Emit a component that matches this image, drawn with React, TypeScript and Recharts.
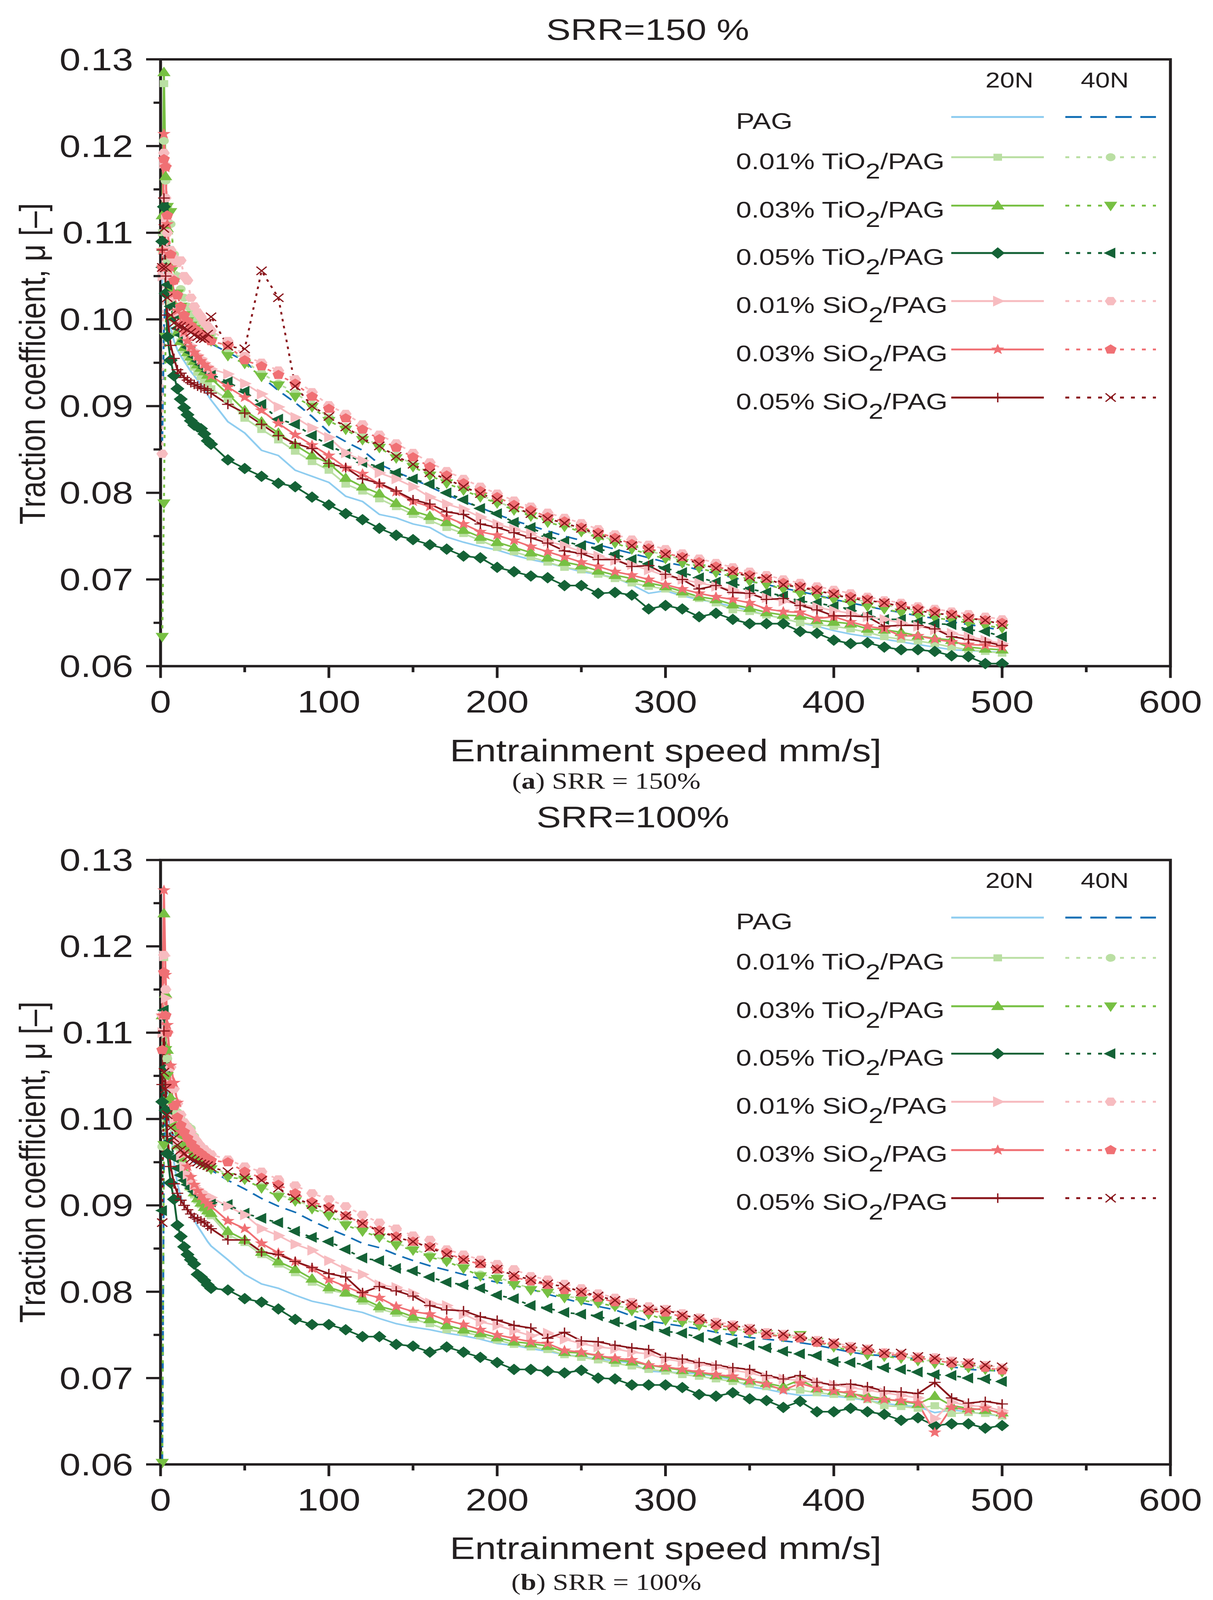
import React from 'react';
import { LineChart, Line, XAxis, YAxis, ReferenceArea } from 'recharts';

const INK = '#231f20';
const SANS = '"Liberation Sans", Arial, Helvetica, sans-serif';
const SERIF = '"Liberation Serif", "Times New Roman", serif';

// The browser photograph only holds 4096 px of height, so the 5027 px tall figure is
// compressed vertically to fit inside it (horizontal geometry is unchanged).
const PAGE_W = 3105;
const PAGE_H = 5027;
const SHOT_H = 4096;
const FIT_Y = SHOT_H / PAGE_H;

// Entrainment speed, mm/s
const speed = [
  1, 2, 3, 4, 6, 8, 10, 12, 14, 16, 18, 20, 22, 24, 26, 28, 30,
  40, 50, 60, 70, 80, 90, 100, 110, 120, 130,
  140, 150, 160, 170, 180, 190, 200, 210, 220, 230,
  240, 250, 260, 270, 280, 290, 300, 310, 320, 330,
  340, 350, 360, 370, 380, 390, 400, 410, 420, 430,
  440, 450, 460, 470, 480, 490, 500,
];

const xTicks = [0, 50, 100, 150, 200, 250, 300, 350, 400, 450, 500, 550, 600];
const yTicks = [0.06, 0.065, 0.07, 0.075, 0.08, 0.085, 0.09, 0.095, 0.1, 0.105, 0.11, 0.115, 0.12, 0.125, 0.13];

// ---------- SRR = 150 %  (traction coefficient x 1000) ----------
const s150_pag20 = [
  104, 110, 104, 101, 99, 97.5, 96.5, 95.8, 95.2, 94.6, 94.0, 93.5, 93.0, 92.5, 92.0, 91.3, 90.7,
  88.2, 86.9, 84.9, 84.3, 82.6, 81.9, 81.2, 79.6, 79.0, 77.5,
  77.1, 76.4, 76.0, 74.9, 74.3, 73.8, 73.4, 72.8, 72.3, 71.9,
  71.4, 70.9, 70.6, 70.2, 69.4, 68.4, 68.7, 68.1, 67.7, 67.3,
  66.9, 66.4, 65.9, 65.5, 65.0, 64.6, 64.1, 63.7, 63.4, 63.1,
  62.8, 62.5, 62.2, 61.9, 61.8, 61.7, 61.6,
];
const s150_pag40 = [
  86, 99, 103, 102, 101, 100.3, 99.8, 99.4, 99.0, 98.7, 98.4, 98.2, 98.0, 97.8, 97.6, 97.4, 97.2,
  96.2, 95.2, 93.4, 91.8, 90.4, 88.8, 87.0, 85.9, 84.9, 83.3,
  82.4, 81.6, 80.7, 79.8, 79.0, 78.3, 77.5, 76.8, 76.2, 75.6,
  75.0, 74.5, 74.0, 73.5, 73.0, 72.5, 72.0, 71.6, 71.1, 70.7,
  70.2, 69.8, 69.4, 69.0, 68.6, 68.2, 67.7, 67.3, 66.9, 66.5,
  66.2, 65.8, 65.5, 65.1, 64.8, 64.5, 64.1,
];
const s150_ti01_20 = [
  110, 127.2, 112, 106.5, 102, 100, 98.5, 97.4, 96.5, 95.8, 95.1, 94.5, 93.9, 93.4, 92.9, 92.4, 92.0,
  90.8, 88.6, 87.3, 86.1, 84.8, 83.6, 82.6, 81.0, 80.2, 79.3,
  78.4, 77.5, 76.8, 76.0, 75.3, 74.5, 73.7, 73.2, 72.6, 72.0,
  71.4, 71.1, 70.6, 70.1, 69.6, 69.2, 68.9, 68.3, 67.8, 67.3,
  66.5, 66.3, 65.9, 65.5, 65.0, 64.8, 64.6, 64.3, 63.9, 63.4,
  63.1, 62.9, 62.6, 62.2, 61.9, 61.7, 61.5,
];
const s150_ti01_40 = [
  108, 120.6, 116, 113, 111, 107.5, 105, 103.5, 102.5, 101.5, 100.8, 100.3, 99.8, 99.4, 99.0, 98.6, 98.3,
  96.6, 95.2, 93.8, 92.6, 91.5, 90.2, 88.7, 87.6, 86.5, 85.4,
  84.3, 83.3, 82.3, 81.4, 80.5, 79.7, 79.0, 78.2, 77.6, 76.9,
  76.3, 75.7, 75.1, 74.5, 73.9, 73.3, 72.8, 72.3, 71.7, 71.2,
  70.8, 70.3, 69.8, 69.4, 69.0, 68.6, 68.2, 67.8, 67.4, 67.1,
  66.7, 66.4, 66.1, 65.8, 65.5, 65.2, 64.9,
];
const s150_ti03_20 = [
  112, 128.5, 116.5, 110.5, 103.5, 100.5, 98.5, 97.5, 96.8, 96.2, 95.7, 95.2, 94.8, 94.4, 94.0, 93.6, 93.2,
  91.4, 89.5, 88.2, 86.9, 85.5, 84.3, 83.4, 81.7, 80.7, 79.9,
  78.8, 77.9, 77.3, 76.6, 75.7, 74.9, 74.3, 73.7, 73.1, 72.5,
  72.0, 71.6, 71.0, 70.5, 70.1, 69.6, 69.2, 68.6, 68.0, 67.7,
  67.1, 66.7, 66.2, 65.9, 65.8, 65.3, 65.1, 64.9, 64.3, 64.2,
  63.9, 63.5, 63.2, 63.0, 62.2, 62.0, 61.9,
];
const s150_ti03_40 = [
  63.4, 78.8, 98.0, 113, 112.4, 106, 103, 101.5, 100.5, 99.8, 99.3, 98.9, 98.6, 98.3, 98.0, 97.8, 97.5,
  95.8, 94.9, 93.4, 92.4, 91.1, 89.9, 88.3, 87.3, 86.1, 85.2,
  84.0, 83.0, 82.0, 81.1, 80.3, 79.5, 78.8, 78.0, 77.3, 76.6,
  76.1, 75.5, 74.8, 74.2, 73.5, 72.9, 72.4, 71.9, 71.3, 70.8,
  70.3, 69.8, 69.4, 68.9, 68.4, 68.1, 67.7, 67.3, 66.9, 66.6,
  66.2, 65.9, 65.6, 65.3, 65.0, 64.7, 64.4,
];
const s150_ti05_20 = [
  109, 113, 103, 98, 95.3, 93.5, 92.0, 90.8, 89.8, 89.0, 88.3, 87.8, 87.6, 87.4, 86.8, 86.0, 85.6,
  83.8, 82.8, 81.9, 81.1, 80.7, 79.5, 78.6, 77.6, 76.9, 75.9,
  75.1, 74.6, 74.0, 73.5, 72.7, 72.5, 71.4, 70.9, 70.4, 70.2,
  69.3, 69.3, 68.4, 68.5, 68.2, 66.6, 67.0, 66.6, 65.7, 66.1,
  65.4, 64.9, 64.9, 64.9, 64.0, 63.8, 63.0, 62.6, 62.7, 62.2,
  61.9, 61.9, 61.7, 61.2, 61.1, 60.3, 60.3,
];
const s150_ti05_40 = [
  106, 113, 108, 104, 101.5, 100, 99, 98.2, 97.5, 96.8, 96.2, 95.7, 95.2, 94.8, 94.4, 94.0, 93.7,
  92.8, 91.7, 90.2, 88.5, 87.9, 86.6, 85.5, 84.5, 83.5, 83.0,
  82.3, 81.6, 81.0, 80.0, 79.2, 78.2, 77.6, 76.6, 76.0, 75.0,
  74.4, 73.9, 73.6, 72.9, 72.3, 71.8, 71.3, 70.8, 70.2, 69.7,
  69.6, 68.9, 68.5, 68.1, 67.5, 67.3, 66.9, 66.6, 65.9, 65.4,
  65.4, 65.1, 64.9, 64.8, 64.2, 64.0, 63.4,
];
const s150_si01_20 = [
  105, 118, 111.5, 108, 105, 102.5, 100.8, 99.5, 98.5, 97.8, 97.0, 96.4, 95.9, 95.5, 95.0, 94.6, 94.3,
  93.7, 92.6, 91.4, 89.9, 88.7, 87.5, 86.4, 84.6, 83.7, 82.3,
  81.6, 80.7, 79.5, 78.7, 78.1, 77.2, 76.4, 75.8, 75.3, 74.4,
  73.9, 73.2, 72.7, 72.2, 71.7, 71.1, 70.4, 70.0, 69.6, 69.2,
  68.8, 68.3, 67.9, 67.5, 67.1, 66.8, 66.4, 66.1, 65.7, 65.4,
  65.0, 64.6, 64.2, 63.8, 63.4, 63.0, 62.6,
];
const s150_si01_40 = [
  84.5, 119.2, 114, 110, 108, 107, 106.5, 106.8, 105, 104.5, 102.5, 101.5, 100.8, 100.3, 99.7, 99.2, 98.7,
  97.5, 95.8, 95.0, 94.1, 93.1, 91.6, 90.1, 89.1, 87.9, 86.7,
  85.7, 84.6, 83.5, 82.5, 81.6, 80.7, 79.9, 79.1, 78.4, 77.7,
  77.1, 76.5, 75.8, 75.2, 74.6, 74.0, 73.5, 73.0, 72.4, 71.9,
  71.4, 70.9, 70.5, 70.0, 69.6, 69.2, 68.8, 68.4, 68.0, 67.6,
  67.3, 66.9, 66.6, 66.3, 66.0, 65.7, 65.4,
];
const s150_si03_20 = [
  108, 121.4, 117.5, 111, 106, 103, 101, 99.5, 98.5, 97.5, 96.8, 96.2, 95.7, 95.2, 94.8, 94.4, 93.5,
  92.2, 91.0, 89.5, 88.0, 86.7, 85.5, 84.3, 82.9, 82.2, 81.0,
  80.1, 79.0, 78.4, 77.2, 76.4, 75.5, 75.1, 74.5, 73.8, 73.2,
  72.6, 72.0, 71.5, 70.9, 70.5, 70.0, 69.4, 68.9, 68.4, 68.0,
  67.7, 67.3, 66.6, 66.3, 66.2, 65.5, 65.7, 65.1, 64.6, 64.3,
  63.5, 63.5, 63.1, 62.8, 62.5, 62.4, 62.2,
];
const s150_si03_40 = [
  106, 118.5, 117.6, 112, 107.5, 104.5, 102.8, 101.5, 100.5, 99.8, 99.3, 98.9, 98.6, 98.3, 98.0, 97.8, 97.5,
  97.0, 95.3, 94.6, 93.6, 92.6, 91.1, 89.7, 88.6, 87.3, 86.2,
  85.2, 84.1, 83.0, 82.0, 81.1, 80.2, 79.5, 78.6, 78.0, 77.2,
  76.7, 76.0, 75.4, 74.8, 74.1, 73.6, 73.0, 72.6, 72.0, 71.5,
  71.0, 70.5, 70.1, 69.6, 69.2, 68.8, 68.4, 68.0, 67.7, 67.3,
  67.0, 66.6, 66.3, 66.0, 65.6, 65.3, 65.0,
];
const s150_si05_20 = [
  108, 114, 105, 100.5, 97, 95.5, 94.2, 93.8, 93.3, 93.0, 92.7, 92.5, 92.3, 92.1, 92.0, 91.8, 91.5,
  90.2, 89.2, 87.9, 86.6, 85.7, 85.1, 83.4, 82.9, 81.6, 81.1,
  80.2, 79.2, 78.7, 77.8, 77.5, 76.4, 76.0, 75.4, 74.8, 74.2,
  73.3, 73.0, 72.3, 72.3, 71.5, 71.6, 70.6, 70.0, 68.9, 69.3,
  68.5, 68.4, 67.7, 67.8, 67.0, 66.5, 65.8, 65.8, 65.7, 64.6,
  64.7, 64.7, 64.3, 63.4, 63.1, 62.8, 62.4,
];
const s150_si05_40 = [
  106, 110.5, 106, 102.5, 100.5, 99.6, 99.3, 99.2, 99.0, 98.8, 98.5, 98.2, 98.0, 97.8, 97.8, 98.3, 100.3,
  96.9, 96.6, 105.6, 102.5, 92.3, 90.0, 88.8, 87.6, 86.3, 85.4,
  84.2, 83.3, 82.3, 81.6, 80.7, 79.9, 79.2, 78.3, 77.6, 77.0,
  76.5, 75.9, 75.2, 74.6, 73.9, 73.5, 72.9, 72.5, 71.8, 71.3,
  70.9, 70.3, 70.1, 69.4, 69.1, 68.7, 68.3, 67.8, 67.6, 67.3,
  66.9, 66.4, 66.1, 65.9, 65.5, 65.3, 64.8,
];

// ---------- SRR = 100 %  (traction coefficient x 1000) ----------
const s100_pag20 = [
  110, 124, 115, 106, 99, 95, 92.5, 91.0, 90.0, 89.5, 89.1, 88.3, 87.6, 87.0, 86.4, 85.8, 85.3,
  83.7, 82.0, 80.9, 80.4, 79.6, 78.9, 78.5, 78.0, 77.6, 76.9,
  76.3, 75.9, 75.6, 75.2, 74.9, 74.5, 74.0, 73.8, 73.4, 73.1,
  72.7, 72.5, 72.2, 72.0, 71.7, 70.8, 70.7, 70.6, 70.5, 70.2,
  69.8, 69.0, 68.7, 68.3, 68.0, 68.0, 67.9, 67.7, 67.4, 67.1,
  66.8, 66.7, 66.0, 66.3, 66.1, 65.8, 65.6,
];
const s100_pag40 = [
  60.2, 96, 104, 101, 99, 97.8, 97, 96.4, 96.0, 95.6, 95.3, 95.0, 94.8, 94.6, 94.4, 94.2, 94.1,
  92.9, 91.9, 90.8, 89.9, 89.2, 88.2, 87.3, 86.5, 85.6, 85.1,
  84.3, 83.6, 83.0, 82.5, 82.0, 81.5, 81.1, 80.7, 80.3, 79.7,
  79.2, 78.7, 78.3, 77.9, 77.2, 76.6, 76.3, 76.0, 75.7, 75.3,
  75.0, 74.7, 74.5, 74.3, 74.1, 73.8, 73.4, 73.0, 72.7, 72.6,
  72.4, 72.2, 71.9, 71.3, 71.0, 70.9, 70.8,
];
const s100_ti01_20 = [
  108, 118.7, 112, 107, 102, 99, 96.8, 95.2, 93.8, 92.8, 92.0, 91.2, 90.6, 90.1, 89.6, 89.2, 88.8,
  86.6, 85.7, 84.3, 83.2, 82.2, 81.1, 80.2, 79.8, 78.9, 78.0,
  77.5, 76.8, 76.3, 75.6, 75.3, 74.9, 74.4, 73.9, 73.6, 73.3,
  72.7, 72.4, 72.1, 71.7, 71.4, 71.0, 70.8, 70.4, 70.2, 69.9,
  69.6, 69.3, 69.0, 68.8, 68.6, 68.3, 68.1, 67.8, 67.5, 66.8,
  66.7, 66.5, 66.8, 65.9, 66.0, 65.9, 65.6,
];
const s100_ti01_40 = [
  96.8, 112, 110, 107, 104, 102, 100.8, 100, 99.5, 99.2, 98.9, 98.0, 97.2, 96.6, 96.0, 95.4, 94.8,
  93.4, 93.1, 92.2, 91.2, 90.7, 89.8, 89.0, 87.9, 87.2, 86.4,
  85.6, 85.0, 84.2, 83.6, 82.9, 82.0, 81.7, 81.0, 80.4, 80.1,
  79.5, 79.2, 78.8, 78.4, 78.0, 77.6, 77.0, 76.7, 76.3, 76.0,
  75.7, 75.4, 75.2, 74.9, 74.6, 74.3, 73.7, 73.3, 73.0, 72.7,
  72.5, 72.2, 71.9, 71.6, 71.4, 71.1, 70.9,
];
const s100_ti03_20 = [
  112, 123.8, 114.5, 108, 102.5, 99.5, 97.0, 95.5, 94.0, 93.0, 92.2, 91.5, 90.8, 90.3, 89.8, 89.4, 89.1,
  87.0, 86.0, 84.6, 83.5, 82.6, 81.5, 80.5, 79.9, 79.2, 78.3,
  77.8, 77.1, 76.8, 76.1, 75.6, 75.2, 74.7, 74.2, 74.0, 73.7,
  73.0, 72.9, 72.6, 72.1, 71.9, 71.5, 71.2, 70.9, 70.6, 70.3,
  70.0, 69.7, 69.4, 69.0, 69.8, 68.8, 68.5, 68.2, 67.9, 67.6,
  67.3, 67.0, 67.9, 66.8, 66.5, 66.3, 66.0,
];
const s100_ti03_40 = [
  60.2, 97, 108, 105, 102, 100, 98.8, 98.0, 97.3, 96.7, 96.2, 95.7, 95.3, 95.0, 94.7, 94.5, 94.2,
  93.3, 93.0, 92.0, 91.0, 90.5, 89.6, 88.8, 87.7, 87.0, 86.3,
  85.4, 84.8, 84.0, 83.5, 82.7, 81.8, 81.5, 80.8, 80.2, 79.9,
  79.3, 79.0, 78.7, 78.3, 77.8, 77.4, 76.7, 76.5, 76.1, 75.8,
  75.5, 75.3, 75.1, 74.8, 75.0, 74.2, 73.6, 73.2, 72.7, 72.5,
  72.3, 72.0, 71.7, 71.5, 71.2, 71.0, 70.7,
];
const s100_ti05_20 = [
  102, 112, 101, 96, 92.6, 90.7, 87.7, 86.4, 85.2, 84.3, 83.7, 83.2, 82.0, 81.7, 81.3, 80.8, 80.4,
  80.2, 79.2, 78.8, 78.0, 76.8, 76.2, 76.2, 75.6, 74.8, 74.8,
  73.9, 73.7, 73.0, 73.6, 73.0, 72.4, 71.8, 71.0, 71.0, 70.8,
  70.6, 70.9, 70.0, 69.9, 69.2, 69.2, 69.2, 68.9, 68.1, 67.9,
  68.3, 67.6, 67.4, 66.6, 67.3, 66.1, 66.1, 66.5, 66.1, 65.8,
  65.1, 65.4, 64.5, 64.7, 64.7, 64.2, 64.5,
];
const s100_ti05_40 = [
  89.4, 112.6, 106, 101, 97.5, 95.5, 94.3, 93.5, 92.9, 92.4, 92.0, 91.6, 91.3, 91.0, 90.8, 90.6, 90.4,
  90.1, 89.1, 88.5, 88.0, 87.0, 86.3, 85.8, 84.9, 83.9, 83.6,
  82.7, 82.4, 81.7, 81.1, 80.8, 80.4, 79.6, 79.2, 78.4, 78.1,
  77.6, 77.4, 77.2, 76.5, 76.1, 76.0, 75.4, 75.2, 74.7, 74.4,
  74.1, 73.8, 73.5, 73.1, 72.8, 72.6, 71.9, 71.8, 71.5, 71.2,
  71.0, 70.7, 70.4, 70.3, 70.0, 69.9, 69.6,
];
const s100_si01_20 = [
  110, 118.9, 114, 110, 104, 100, 97.5, 95.8, 94.5, 93.6, 92.9, 92.3, 91.9, 91.6, 91.3, 91.1, 90.9,
  89.9, 88.9, 87.3, 86.5, 85.5, 84.8, 83.6, 82.6, 82.0, 80.8,
  80.5, 79.8, 78.7, 78.4, 77.4, 76.5, 76.1, 75.5, 74.9, 75.2,
  74.5, 74.0, 73.6, 73.4, 73.0, 72.8, 72.2, 71.9, 71.6, 71.3,
  70.9, 70.6, 70.1, 69.9, 69.7, 69.5, 69.2, 68.9, 68.6, 68.3,
  68.0, 67.7, 65.3, 67.2, 66.8, 66.7, 66.2,
];
const s100_si01_40 = [
  112, 119, 115, 110, 106, 103.5, 101.8, 100.5, 99.6, 99.0, 98.5, 97.8, 97.3, 96.8, 96.5, 96.1, 95.9,
  95.3, 94.5, 93.9, 93.0, 92.3, 91.4, 90.7, 89.9, 88.9, 88.0,
  87.3, 86.5, 86.0, 84.9, 84.3, 83.7, 83.2, 82.6, 81.8, 81.4,
  80.9, 80.4, 79.8, 79.3, 78.8, 78.3, 78.0, 77.5, 77.0, 76.5,
  76.2, 75.8, 75.3, 75.1, 74.8, 74.4, 74.1, 73.7, 73.4, 73.0,
  72.8, 72.5, 72.4, 72.0, 71.8, 71.5, 71.2,
];
const s100_si03_20 = [
  112, 126.5, 116.7, 110.9, 106.2, 104.2, 101.9, 98.5, 96.0, 94.5, 93.3, 92.4, 91.7, 91.1, 90.6, 90.2, 89.9,
  88.2, 87.3, 85.6, 84.5, 83.5, 82.7, 81.4, 80.6, 79.8, 79.3,
  78.3, 77.7, 77.4, 76.7, 76.2, 75.6, 75.0, 74.6, 74.2, 74.0,
  73.2, 73.0, 72.6, 72.3, 72.1, 71.5, 71.3, 71.0, 70.7, 70.4,
  70.2, 69.7, 69.3, 68.6, 69.4, 68.8, 68.5, 68.3, 67.6, 67.5,
  67.4, 67.1, 63.7, 66.6, 66.3, 66.5, 65.8,
];
const s100_si03_40 = [
  108, 117, 112, 110, 104, 101.5, 100.2, 99.3, 98.5, 97.8, 97.2, 96.7, 96.3, 96.0, 95.7, 95.4, 95.2,
  95.0, 93.9, 93.2, 92.4, 91.4, 90.4, 89.8, 88.8, 87.9, 87.1,
  86.4, 85.8, 85.2, 84.5, 83.7, 83.2, 82.6, 81.7, 81.2, 80.8,
  80.2, 79.9, 79.3, 78.8, 78.4, 77.8, 77.6, 77.1, 76.7, 76.1,
  75.9, 75.5, 75.0, 74.8, 74.6, 74.1, 73.9, 73.4, 73.2, 72.8,
  72.6, 72.3, 72.1, 71.7, 71.6, 71.2, 70.9,
];
const s100_si05_20 = [
  104, 110.2, 104, 98, 94.5, 92.5, 91.4, 90.6, 90.0, 89.5, 89.0, 88.6, 88.4, 88.2, 88.0, 87.6, 87.3,
  86.0, 86.0, 84.6, 84.3, 83.5, 82.8, 82.1, 81.7, 79.9, 80.6,
  80.1, 79.5, 78.4, 77.9, 77.8, 77.1, 76.7, 76.1, 75.8, 74.6,
  75.3, 74.3, 74.2, 73.8, 73.5, 73.3, 72.4, 72.2, 71.8, 71.5,
  71.2, 71.0, 70.3, 69.9, 70.3, 69.5, 69.2, 69.3, 69.0, 68.5,
  68.4, 68.2, 69.5, 67.7, 67.1, 67.3, 67.0,
];
const s100_si05_40 = [
  88.0, 105.4, 103.5, 100.5, 99, 97.8, 97, 96.4, 96.0, 95.6, 95.4, 95.2, 95.0, 94.8, 94.7, 94.6, 94.4,
  93.9, 93.2, 92.9, 92.0, 90.8, 90.1, 89.6, 88.8, 87.9, 87.0,
  86.3, 85.8, 85.1, 84.3, 83.7, 83.3, 82.6, 81.9, 81.4, 80.9,
  80.6, 80.0, 79.5, 79.0, 78.6, 78.0, 77.9, 77.3, 76.9, 76.3,
  76.1, 75.7, 75.2, 75.1, 74.8, 74.3, 74.1, 73.6, 73.4, 72.9,
  72.9, 72.5, 72.3, 71.9, 71.8, 71.5, 71.3,
];

const seriesKeys = ['pag20', 'pag40', 'ti01_20', 'ti01_40', 'ti03_20', 'ti03_40', 'ti05_20', 'ti05_40',
  'si01_20', 'si01_40', 'si03_20', 'si03_40', 'si05_20', 'si05_40'];

const cols150 = [s150_pag20, s150_pag40, s150_ti01_20, s150_ti01_40, s150_ti03_20, s150_ti03_40, s150_ti05_20,
  s150_ti05_40, s150_si01_20, s150_si01_40, s150_si03_20, s150_si03_40, s150_si05_20, s150_si05_40];
const cols100 = [s100_pag20, s100_pag40, s100_ti01_20, s100_ti01_40, s100_ti03_20, s100_ti03_40, s100_ti05_20,
  s100_ti05_40, s100_si01_20, s100_si01_40, s100_si03_20, s100_si03_40, s100_si05_20, s100_si05_40];

function buildRows(cols: number[][]) {
  return speed.map((s, i) => {
    const row: any = { speed: s };
    seriesKeys.forEach((k, j) => { row[k] = cols[j][i] / 1000; });
    return row;
  });
}
const rows150 = buildRows(cols150);
const rows100 = buildRows(cols100);

type Shape = 'none' | 'square' | 'circle' | 'triUp' | 'triDown' | 'diamond' | 'triLeft' | 'triRight' |
  'hexagon' | 'star' | 'pentagon' | 'plus' | 'cross';

const C_PAG20 = '#8fcdf0';
const C_PAG40 = '#1570b5';
const C_TI01 = '#badfa3';
const C_TI03 = '#77c043';
const C_TI05 = '#146236';
const C_SI01 = '#f7bcc0';
const C_SI03 = '#f07074';
const C_SI05 = '#8a161c';

const DOT = '10 16';
const seriesStyle: { key: string; color: string; dash?: string; shape: Shape }[] = [
  { key: 'pag20', color: C_PAG20, shape: 'none' },
  { key: 'pag40', color: C_PAG40, dash: '30 18', shape: 'none' },
  { key: 'ti01_20', color: C_TI01, shape: 'square' },
  { key: 'ti01_40', color: C_TI01, dash: DOT, shape: 'circle' },
  { key: 'ti03_20', color: C_TI03, shape: 'triUp' },
  { key: 'ti03_40', color: C_TI03, dash: DOT, shape: 'triDown' },
  { key: 'ti05_20', color: C_TI05, shape: 'diamond' },
  { key: 'ti05_40', color: C_TI05, dash: DOT, shape: 'triLeft' },
  { key: 'si01_20', color: C_SI01, shape: 'triRight' },
  { key: 'si01_40', color: C_SI01, dash: DOT, shape: 'hexagon' },
  { key: 'si03_20', color: C_SI03, shape: 'star' },
  { key: 'si03_40', color: C_SI03, dash: DOT, shape: 'pentagon' },
  { key: 'si05_20', color: C_SI05, shape: 'plus' },
  { key: 'si05_40', color: C_SI05, dash: '8 14', shape: 'cross' },
];

const legendRows = [
  { pre: 'PAG', sub: '', post: '' },
  { pre: '0.01% TiO', sub: '2', post: '/PAG' },
  { pre: '0.03% TiO', sub: '2', post: '/PAG' },
  { pre: '0.05% TiO', sub: '2', post: '/PAG' },
  { pre: '0.01% SiO', sub: '2', post: '/PAG' },
  { pre: '0.03% SiO', sub: '2', post: '/PAG' },
  { pre: '0.05% SiO', sub: '2', post: '/PAG' },
];
const legendOffsets = [181, 307.5, 459.5, 608.5, 759.5, 911.5, 1062.5];

function poly(pts: number[][], x: number, y: number) {
  return pts.map(([a, b]) => `${(x + a).toFixed(2)},${(y + b).toFixed(2)}`).join(' ');
}
function regular(n: number, r: number, start: number) {
  const out: number[][] = [];
  for (let i = 0; i < n; i++) {
    const a = (start + (360 / n) * i) * Math.PI / 180;
    out.push([r * Math.cos(a), r * Math.sin(a)]);
  }
  return out;
}
function starPts(ro: number, ri: number) {
  const out: number[][] = [];
  for (let i = 0; i < 10; i++) {
    const a = (-90 + 36 * i) * Math.PI / 180;
    const r = i % 2 === 0 ? ro : ri;
    out.push([r * Math.cos(a), r * Math.sin(a)]);
  }
  return out;
}

function Marker({ shape, x, y, color }: { shape: Shape; x: number; y: number; color: string }) {
  switch (shape) {
    case 'square':
      return <rect x={x - 11} y={y - 11} width={22} height={22} fill={color} />;
    case 'circle':
      return <circle cx={x} cy={y} r={12.5} fill={color} />;
    case 'triUp':
      return <polygon points={poly([[0, -18], [17, 12], [-17, 12]], x, y)} fill={color} />;
    case 'triDown':
      return <polygon points={poly([[0, 18], [17, -12], [-17, -12]], x, y)} fill={color} />;
    case 'triLeft':
      return <polygon points={poly([[-18, 0], [12, -17], [12, 17]], x, y)} fill={color} />;
    case 'triRight':
      return <polygon points={poly([[18, 0], [-12, -17], [-12, 17]], x, y)} fill={color} />;
    case 'diamond':
      return <polygon points={poly([[0, -18], [18, 0], [0, 18], [-18, 0]], x, y)} fill={color} />;
    case 'hexagon':
      return <polygon points={poly(regular(6, 15, 0), x, y)} fill={color} />;
    case 'pentagon':
      return <polygon points={poly(regular(5, 16, -90), x, y)} fill={color} />;
    case 'star':
      return <polygon points={poly(starPts(18, 7.5), x, y)} fill={color} />;
    case 'plus':
      return <path d={`M${x - 15},${y}H${x + 15}M${x},${y - 15}V${y + 15}`} stroke={color} strokeWidth={3.5} fill="none" />;
    case 'cross':
      return <path d={`M${x - 13},${y - 13}L${x + 13},${y + 13}M${x - 13},${y + 13}L${x + 13},${y - 13}`} stroke={color} strokeWidth={3.5} fill="none" />;
    default:
      return null;
  }
}

const makeDot = (shape: Shape, color: string) => (p: any) => {
  if (p == null || p.cx == null || p.cy == null || isNaN(p.cx) || isNaN(p.cy)) return <g key={`e${p && p.index}`} />;
  return (
    <g key={`d${p.index}`}>
      <Marker shape={shape} x={p.cx} y={p.cy} color={color} />
    </g>
  );
};

const XTick = (p: any) => {
  const v = p.payload.value;
  const major = v % 100 === 0;
  return (
    <g>
      <line x1={p.x} x2={p.x} y1={p.y} y2={p.y + (major ? 37 : 19)} stroke={INK} strokeWidth={7} />
      {major && (
        <text x={p.x} y={p.y + 145} textAnchor="middle" fontSize={97} fontFamily={SANS} fill={INK}>{v}</text>
      )}
    </g>
  );
};

const YTick = (p: any) => {
  const v = p.payload.value;
  const major = Math.round(v * 1000) % 10 === 0;
  return (
    <g>
      <line x1={p.x} x2={p.x - (major ? 37 : 18)} y1={p.y} y2={p.y} stroke={INK} strokeWidth={7} />
      {major && (
        <text x={p.x - 70} y={p.y + 34} textAnchor="end" fontSize={97} fontFamily={SANS} fill={INK}>{v.toFixed(2)}</text>
      )}
    </g>
  );
};

function Panel({ rows, top, height, plotTop, plotBottom }: { rows: any[]; top: number; height: number; plotTop: number; plotBottom: number }) {
  const mTop = plotTop - top;
  const mBottom = height - (plotBottom - top) - 100;
  return (
    <div style={{ position: 'absolute', left: 0, top, width: PAGE_W, height }}>
      <LineChart width={PAGE_W} height={height} data={rows} margin={{ top: mTop, right: 109, bottom: mBottom, left: 311 }}>
        <XAxis dataKey="speed" type="number" domain={[0, 600]} ticks={xTicks} interval={0}
          tick={(p: any) => <XTick {...p} />} tickLine={false} tickSize={0} tickMargin={0}
          axisLine={false} height={100} />
        <YAxis type="number" domain={[0.06, 0.13]} ticks={yTicks} interval={0}
          tick={(p: any) => <YTick {...p} />} tickLine={false} tickSize={0} tickMargin={0}
          axisLine={false} width={100} />
        <ReferenceArea x1={0} x2={600} y1={0.06} y2={0.13} fill="none" fillOpacity={0}
          stroke={INK} strokeWidth={7.5} ifOverflow="visible" />
        {seriesStyle.map((s) => (
          <Line key={s.key} dataKey={s.key} type="linear" stroke={s.color} strokeWidth={5}
            strokeDasharray={s.dash} isAnimationActive={false} activeDot={false}
            dot={s.shape === 'none' ? false : makeDot(s.shape, s.color)} />
        ))}
      </LineChart>
    </div>
  );
}

function LegendBlock({ plotTop }: { plotTop: number }) {
  const x20a = 2435, x20b = 2672, m20 = 2554;
  const x40a = 2727, x40b = 2959, m40 = 2843;
  return (
    <g>
      <text x={2584} y={plotTop + 88} textAnchor="middle" fontSize={67} fontFamily={SANS} fill={INK}>20N</text>
      <text x={2828} y={plotTop + 88} textAnchor="middle" fontSize={67} fontFamily={SANS} fill={INK}>40N</text>
      {legendRows.map((r, i) => {
        const ly = plotTop + legendOffsets[i];
        const s20 = seriesStyle[i * 2];
        const s40 = seriesStyle[i * 2 + 1];
        return (
          <g key={i}>
            <text x={1884} y={ly + 37} fontSize={71} fontFamily={SANS} fill={INK}>
              {r.pre}
              {r.sub && <tspan dy={30} fontSize={68}>{r.sub}</tspan>}
              {r.post && <tspan dy={-30}>{r.post}</tspan>}
            </text>
            <line x1={x20a} x2={x20b} y1={ly} y2={ly} stroke={s20.color} strokeWidth={6} strokeDasharray={s20.dash} />
            <Marker shape={s20.shape} x={m20} y={ly} color={s20.color} />
            <line x1={x40a} x2={x40b} y1={ly} y2={ly} stroke={s40.color} strokeWidth={6}
              strokeDasharray={s40.shape === 'none' ? '42 22' : '10 18'} />
            <Marker shape={s40.shape} x={m40} y={ly} color={s40.color} />
          </g>
        );
      })}
    </g>
  );
}

function Annotations() {
  const p1Top = 186.5, p1Bottom = 2093;
  const p2Top = 2702, p2Bottom = 4601;
  return (
    <svg width={PAGE_W} height={PAGE_H} style={{ position: 'absolute', left: 0, top: 0, pointerEvents: 'none' }}>
      {/* Panel (a) */}
      <text x={1658} y={125} textAnchor="middle" fontSize={94} fontFamily={SANS} fill={INK}>SRR=150 %</text>
      <text x={1704} y={p1Bottom + 299} textAnchor="middle" fontSize={97} fontFamily={SANS} fill={INK}>Entrainment speed mm/s]</text>
      <text x={115} y={1143} textAnchor="middle" fontSize={93} fontFamily={SANS} fill={INK}
        transform="rotate(-90 115 1143)">Traction coefficient, μ [–]</text>
      <text x={1552} y={2478} textAnchor="middle" fontSize={72} fontFamily={SERIF} fill={INK}>
        (<tspan fontWeight="bold">a</tspan>) SRR = 150%
      </text>
      <LegendBlock plotTop={p1Top} />

      {/* Panel (b) */}
      <text x={1620} y={2600} textAnchor="middle" fontSize={94} fontFamily={SANS} fill={INK}>SRR=100%</text>
      <text x={1704} y={p2Bottom + 297} textAnchor="middle" fontSize={97} fontFamily={SANS} fill={INK}>Entrainment speed mm/s]</text>
      <text x={115} y={(p2Top + p2Bottom) / 2} textAnchor="middle" fontSize={93} fontFamily={SANS} fill={INK}
        transform={`rotate(-90 115 ${(p2Top + p2Bottom) / 2})`}>Traction coefficient, μ [–]</text>
      <text x={1552} y={4995} textAnchor="middle" fontSize={72} fontFamily={SERIF} fill={INK}>
        (<tspan fontWeight="bold">b</tspan>) SRR = 100%
      </text>
      <LegendBlock plotTop={p2Top} />
    </svg>
  );
}

export default function App() {
  return (
    <>
      <style>{'html, body { margin: 0; padding: 0; background: #ffffff; overflow: hidden; }'}</style>
      <div style={{ position: 'relative', width: PAGE_W, height: SHOT_H, background: '#ffffff', overflow: 'hidden' }}>
        <div style={{
          position: 'absolute', left: 0, top: 0, width: PAGE_W, height: PAGE_H,
          transform: `scale(1, ${FIT_Y})`, transformOrigin: '0 0',
        }}>
          <Panel rows={rows150} top={0} height={2513} plotTop={186.5} plotBottom={2093} />
          <Panel rows={rows100} top={2513} height={2514} plotTop={2702} plotBottom={4601} />
          <Annotations />
        </div>
      </div>
    </>
  );
}
